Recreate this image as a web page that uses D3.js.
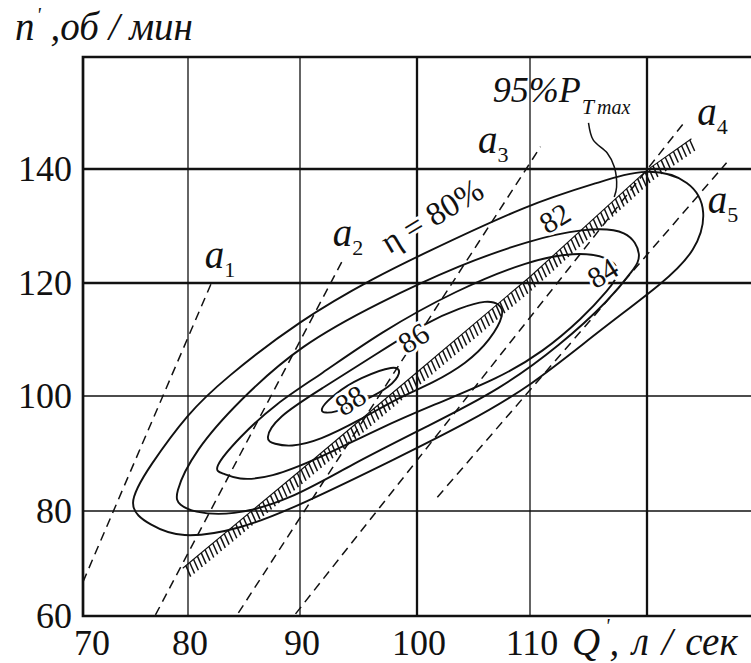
<!DOCTYPE html>
<html><head><meta charset="utf-8">
<script src="https://cdn.jsdelivr.net/npm/d3@7"></script>
<style>body{margin:0;background:#fff}svg{display:block}</style>
</head><body>
<svg id="c" width="751" height="663"></svg>
<script>
// ---------- data ----------
const xTicks = [70, 80, 90, 100, 110, 120];
const yTicks = [60, 80, 100, 120, 140];
const thickX = [100, 120];
const thickY = [120, 140];

// efficiency contours (Q', n') — closed curves (spline control points)
const eta80 = [[73.95,80.7],[76.4,88.0],[80.0,97.0],[83.1,102.8],[90.0,113.5],[96.8,121.4],[100.0,124.6],[110.0,134.0],[116.0,137.7],[120.0,140.3],[123.8,138.1],[125.2,132.6],[124.2,125.6],[121.4,120.0],[116.0,111.7],[110.0,101.6],[104.4,95.3],[98.5,89.4],[90.0,81.0],[84.6,76.4],[79.2,74.7],[76.4,77.3]];
const eta82 = [[78.6,82.6],[80.6,90.6],[84.6,99.3],[90.0,109.0],[96.8,116.6],[103.8,123.2],[110.0,127.5],[114.5,129.6],[118.5,129.5],[119.6,124.7],[118.9,122.5],[116.8,117.0],[112.6,109.0],[107.3,101.1],[101.2,95.0],[94.3,88.0],[89.1,81.9],[83.8,79.0],[80.4,79.8],[79.2,81.0]];
const eta84 = [[82.1,87.1],[84.6,92.9],[87.9,98.8],[91.7,103.7],[96.8,111.2],[103.5,118.8],[110.0,124.0],[113.8,125.4],[116.7,124.7],[117.9,122.1],[116.7,118.8],[114.5,113.8],[111.1,107.8],[107.3,103.2],[101.4,98.4],[96.8,94.4],[91.7,89.2],[87.3,85.7],[84.4,85.4],[83.1,86.6]];
const eta86 = [[86.8,92.3],[87.9,96.3],[91.7,101.1],[96.8,107.8],[100.9,113.1],[103.8,115.6],[106.2,117.0],[107.3,116.3],[107.8,114.7],[106.5,109.9],[104.4,105.8],[101.4,102.3],[98.5,99.8],[95.1,95.8],[91.7,92.3],[89.1,91.1],[87.7,91.7]];
const eta88 = [[91.3,97.0],[93.0,100.5],[95.1,103.2],[98.2,105.6],[98.7,104.2],[97.7,101.6],[95.6,99.3],[93.0,97.0]];
const contours = [eta80, eta82, eta84, eta86, eta88];

// 95% P_T max line
const pmax95 = [[79.5,69.1],[90.0,87.0],[100.0,104.2],[110.0,121.1],[120.0,139.8],[123.8,145.3]];
const pmaxLeader = [[115.0,148.1],[115.4,145.1],[116.6,142.8],[117.2,140.4],[117.4,136.8],[117.2,135.1]];

// guide-vane opening lines a1..a5
const a1 = [[70.0,66.5],[82.2,120.5]];
const a2 = [[76.9,60.2],[93.8,124.6]];
const a3 = [[84.5,60.6],[110.9,143.9]];
const a4 = [[89.6,60.4],[123.2,148.2]];
const a5 = [[101.8,82.4],[126.8,141.1]];
const aLines = [a1, a2, a3, a4, a5];
const aNames = ["1","2","3","4","5"];
const aLabelAt = [[81.5,122.6],[92.8,126.5],[105.4,142.8],[124.3,147.7],[125.2,132.3]];

const isoLabels = ["82","84","86","88"];
const isoLabelAt = [[112.1,131.4],[116.2,121.8],[99.7,110.3],[94.3,99.3]];
const eta80Label = "η = 80%";
const eta80LabelAt = [101.3,131.9];
const pmaxLabelAt = [106.7,151.8];

// ---------- layout ----------
const L = 83, R = 751, T = 57, B = 616;
const FONT = "'Liberation Serif','Times New Roman',serif";
const INK = "#111";
const svg = d3.select("#c");
const x = d3.scaleLinear().domain(xTicks).range([83,188,300,417,530,647]);
const y = d3.scaleLinear().domain(yTicks).range([616,511,396,283,169]);

svg.append("rect").attr("width",751).attr("height",663).attr("fill","#fff");
svg.append("defs").append("clipPath").attr("id","clip")
  .append("rect").attr("x",L).attr("y",T).attr("width",R-L).attr("height",B-T);

// grid
svg.append("g").selectAll("line").data(xTicks.filter(v=>v>xTicks[0])).join("line")
  .attr("x1",d=>x(d)).attr("x2",d=>x(d)).attr("y1",T).attr("y2",B)
  .attr("stroke",INK).attr("stroke-width",d=>thickX.includes(d)?2.3:1.3);
svg.append("g").selectAll("line").data(yTicks.filter(v=>v>yTicks[0])).join("line")
  .attr("y1",d=>y(d)).attr("y2",d=>y(d)).attr("x1",L).attr("x2",R)
  .attr("stroke",INK).attr("stroke-width",d=>thickY.includes(d)?2.3:1.3);
svg.append("path").attr("d",`M${R},${T}H${L}V${B}H${R}`)
  .attr("fill","none").attr("stroke",INK).attr("stroke-width",2.7);

const plot = svg.append("g").attr("clip-path","url(#clip)");

// dashed a-lines
const lin = d3.line().x(d=>x(d[0])).y(d=>y(d[1]));
plot.selectAll(".aline").data(aLines).join("path").attr("class","aline")
  .attr("d",lin).attr("fill","none").attr("stroke",INK)
  .attr("stroke-width",1.5).attr("stroke-dasharray","9,6");

// contours
const closed = d3.line().x(d=>x(d[0])).y(d=>y(d[1])).curve(d3.curveBasisClosed);
plot.selectAll(".cont").data(contours).join("path").attr("class","cont")
  .attr("d",closed).attr("fill","none").attr("stroke",INK).attr("stroke-width",1.9);

// hatched 95% Pmax line
const hp = plot.append("path").attr("d",lin(pmax95)).attr("fill","none")
  .attr("stroke",INK).attr("stroke-width",1.1);
const node = hp.node(), len = node.getTotalLength();
const ang = 24*Math.PI/180, tl = 12;
const ticks = [];
for (let s = 4; s < len - 2; s += 5) {
  const p = node.getPointAtLength(s);
  ticks.push([p.x, p.y, p.x + Math.sin(ang)*tl, p.y + Math.cos(ang)*tl]);
}
plot.append("g").selectAll("line").data(ticks).join("line")
  .attr("x1",d=>d[0]).attr("y1",d=>d[1]).attr("x2",d=>d[2]).attr("y2",d=>d[3])
  .attr("stroke",INK).attr("stroke-width",1.5);

// leader
svg.append("path").attr("d",d3.line().x(d=>x(d[0])).y(d=>y(d[1])).curve(d3.curveCatmullRom)(pmaxLeader))
  .attr("fill","none").attr("stroke",INK).attr("stroke-width",1.5);

// ---------- texts ----------
function halo(sel,w){ return sel.attr("stroke","#fff").attr("stroke-width",w).attr("paint-order","stroke").attr("stroke-linejoin","round"); }

halo(svg.append("g").selectAll("text").data(isoLabels).join("text")
  .attr("transform",(d,i)=>`translate(${x(isoLabelAt[i][0])},${y(isoLabelAt[i][1])}) rotate(-32)`)
  .attr("text-anchor","middle").attr("dy","0.35em")
  .attr("font-family",FONT).attr("font-size",30).attr("fill",INK).text(d=>d),6);

halo(svg.append("text")
  .attr("transform",`translate(${x(eta80LabelAt[0])},${y(eta80LabelAt[1])}) rotate(-31)`)
  .attr("text-anchor","middle").attr("dy","0.35em")
  .attr("font-family",FONT).attr("font-size",33).attr("fill",INK).text(eta80Label),6);

const at = svg.append("g").selectAll("text").data(aNames).join("text")
  .attr("x",(d,i)=>x(aLabelAt[i][0])).attr("y",(d,i)=>y(aLabelAt[i][1]))
  .attr("font-family",FONT).attr("fill",INK);
at.append("tspan").attr("font-style","italic").attr("font-size",39).text("a");
at.append("tspan").attr("font-size",22).attr("dy",9).text(d=>d);

const pt = svg.append("text").attr("x",x(pmaxLabelAt[0])).attr("y",y(pmaxLabelAt[1]))
  .attr("font-family",FONT).attr("font-style","italic").attr("font-size",36).attr("fill",INK);
pt.append("tspan").text("95%P");
pt.append("tspan").attr("font-size",22).attr("dy",12).attr("dx",1).text("T");
pt.append("tspan").attr("font-size",20).attr("dx",3).text("max");

// tick labels
svg.append("g").selectAll("text").data(yTicks).join("text")
  .attr("x",72).attr("y",d=>y(d)+12).attr("text-anchor","end")
  .attr("font-family",FONT).attr("font-size",36).attr("fill",INK).text(d=>d);
svg.append("g").selectAll("text").data(xTicks.slice(0,5)).join("text")
  .attr("x",(d,i)=>x(d)+(i===0?9:2)).attr("y",655).attr("text-anchor","middle")
  .attr("font-family",FONT).attr("font-size",36).attr("fill",INK).text(d=>d);

// axis titles
const xt = svg.append("text").attr("x",572).attr("y",655)
  .attr("font-family",FONT).attr("font-style","italic").attr("font-size",39)
  .attr("word-spacing",3).attr("fill",INK);
xt.append("tspan").text("Q");
xt.append("tspan").attr("font-size",20).attr("dy",-22).attr("dx",5).text("'");
xt.append("tspan").attr("dy",22).text(", л / сек");

const yt = svg.append("text").attr("x",15).attr("y",40)
  .attr("font-family",FONT).attr("font-style","italic").attr("font-size",39).attr("fill",INK);
yt.append("tspan").text("n");
yt.append("tspan").attr("font-size",20).attr("dy",-18).attr("dx",2).text("'");
yt.append("tspan").attr("dy",18).text(" ,об / мин");
</script>
</body></html>
